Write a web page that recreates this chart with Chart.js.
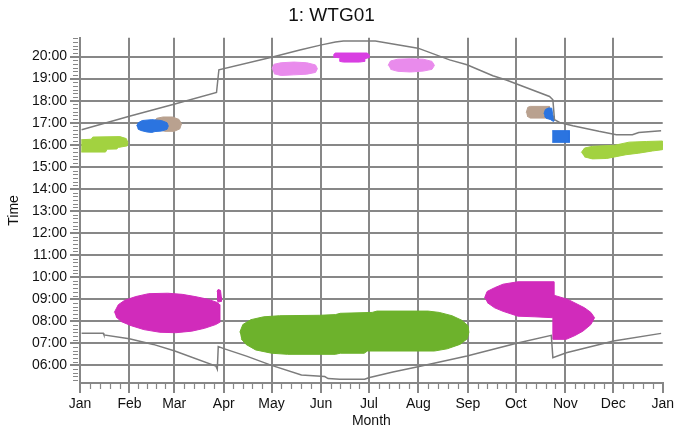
<!DOCTYPE html>
<html>
<head>
<meta charset="utf-8">
<script src="https://cdn.jsdelivr.net/npm/chart.js@4/dist/chart.umd.min.js"></script>
<style>
  body { margin: 0; background: #fff; }
</style>
</head>
<body>
<canvas id="flicker" width="677" height="435"></canvas>
<script>
// x = day of year, y = hour of day
const monthLabels = ['Jan', 'Feb', 'Mar', 'Apr', 'May', 'Jun', 'Jul', 'Aug', 'Sep', 'Oct', 'Nov', 'Dec', 'Jan'];
const monthStartDays = [0, 31, 59, 90, 120, 151, 181, 212, 243, 273, 304, 334, 365];
const hourTicks = [6, 7, 8, 9, 10, 11, 12, 13, 14, 15, 16, 17, 18, 19, 20];

const sunset = [[1, 16.68], [30.9, 17.29], [59.4, 17.85], [85.5, 18.37], [87, 19.40], [120, 19.97], [137.7, 20.3],
  [151.3, 20.53], [160, 20.66], [165, 20.7], [185, 20.7], [211.7, 20.38], [231.5, 19.85], [242.4, 19.63],
  [258.6, 19.13], [267, 18.94], [294.1, 18.19], [296.2, 18.04], [297.2, 17.14], [300.4, 17.01], [308.7, 16.86],
  [325, 16.61], [336, 16.46], [346, 16.46], [350, 16.56], [364, 16.64]];
const sunrise = [[1, 7.45], [14.6, 7.45], [15, 7.38], [30.9, 7.21], [45.9, 6.95], [59.4, 6.65], [85.1, 5.97],
  [86, 5.82], [86.6, 6.85], [90.1, 6.76], [104.3, 6.42], [120, 6.0], [138.7, 5.56], [153.3, 5.49], [155.4, 5.40],
  [162.7, 5.37], [178.3, 5.37], [180.8, 5.44], [196, 5.70], [211.7, 5.94], [242.4, 6.42], [273.5, 7.0],
  [295.2, 7.36], [296.2, 6.35], [304.6, 6.57], [334.2, 7.10], [364, 7.45]];

// shadow areas (outline of each patch)
const janGreen = [[0.8, 16.23], [7, 16.25], [8, 16.35], [25, 16.37], [29, 16.28], [30, 16.1], [29.5, 15.95],
  [24, 15.88], [23, 15.81], [17, 15.8], [16, 15.67], [0.8, 15.67]];
const febBlue = [[35.5, 16.85], [36.5, 17.0], [39, 17.1], [45, 17.14], [51, 17.1], [54.5, 17.0], [55.3, 16.85],
  [54.5, 16.7], [51, 16.62], [47, 16.6], [45, 16.56], [42, 16.58], [38, 16.65], [36.2, 16.72]];
const febTan = [[46, 17.0], [48, 17.2], [52, 17.26], [58, 17.26], [62, 17.15], [63.6, 16.95], [62.5, 16.72],
  [59, 16.61], [53, 16.61], [48, 16.7]];
const mayLilac = [[120.3, 19.45], [121.5, 19.65], [126, 19.72], [134, 19.75], [142, 19.72], [147.5, 19.62],
  [148.7, 19.45], [147.5, 19.28], [142, 19.2], [134, 19.17], [126, 19.14], [121.5, 19.22]];
const junMagenta = [[159, 19.95], [159, 20.1], [160, 20.16], [180, 20.16], [181, 20.08], [181, 19.95],
  [178.3, 19.9], [178.3, 19.78], [175, 19.75], [165, 19.75], [162.7, 19.78], [162.7, 19.92]];
const augLilac = [[193, 19.6], [194.5, 19.8], [199, 19.88], [207, 19.9], [215, 19.88], [220.5, 19.78],
  [222, 19.6], [220.5, 19.42], [215, 19.34], [207, 19.3], [199, 19.33], [194.5, 19.42]];
const octTan = [[279.5, 17.45], [280.5, 17.7], [282, 17.74], [294, 17.74], [294, 17.21], [282, 17.21], [280, 17.3]];
const octBlue = [[290.6, 17.4], [291.5, 17.6], [293.5, 17.67], [295.5, 17.66], [296, 17.4], [297.3, 17.1],
  [296.5, 17.06], [294.5, 17.15], [292, 17.2], [291, 17.28]];
const novBlue = [[295.8, 16.64], [306.6, 16.64], [306.6, 16.11], [295.8, 16.11]];
const decGreen = [[314, 15.65], [316, 15.85], [321, 15.93], [335, 15.98], [344, 16.12], [355, 16.15], [365, 16.17],
  [365, 15.78], [358.6, 15.72], [350, 15.62], [342, 15.55], [335, 15.45], [330, 15.38], [321, 15.36], [316, 15.45]];
const marMagenta = [[21.5, 8.4], [24, 8.75], [28, 8.95], [35, 9.12], [43, 9.25], [55, 9.27], [64, 9.22], [72, 9.12],
  [80, 9.0], [86, 8.85], [87.5, 8.75], [87.5, 7.95], [85, 7.85], [78, 7.68], [70, 7.55], [60, 7.48], [50, 7.5],
  [40, 7.62], [32, 7.8], [26, 7.98], [22.5, 8.2]];
const marSliver = [[85.8, 9.35], [86.5, 9.44], [88, 9.4], [88.5, 9.1], [88.5, 8.9], [86.5, 8.87], [85.8, 9.0]];
const summerGreen = [[100.1, 7.5], [102, 7.85], [107, 8.07], [115, 8.2], [125, 8.25], [150, 8.27], [160, 8.3],
  [163, 8.36], [183, 8.4], [186, 8.46], [218, 8.46], [225, 8.4], [233, 8.25], [239, 8.05], [243, 7.8], [243.6, 7.5],
  [242.5, 7.2], [238, 6.95], [230, 6.75], [222, 6.65], [180, 6.65], [178, 6.55], [163, 6.55], [160, 6.5], [130, 6.5],
  [120, 6.55], [110, 6.7], [104, 6.95], [101, 7.2]];
const octMagenta = [[253.4, 9.06], [255, 9.35], [259.7, 9.52], [265, 9.68], [274.3, 9.79], [296.8, 9.79],
  [296.8, 9.18], [305.6, 8.99], [316, 8.61], [320, 8.4], [322.3, 8.16], [320, 7.85], [315, 7.55], [310, 7.35],
  [304.6, 7.18], [296.2, 7.18], [296.2, 8.16], [285, 8.2], [274.3, 8.23], [265, 8.45], [259.7, 8.61], [255, 8.85]];

const GRID = '#878787';
const FONT = "'Liberation Sans', Arial, sans-serif";

function pts(arr) {
  return arr.map(p => ({ x: p[0], y: p[1] }));
}
function sunLine(arr) {
  return { data: pts(arr), showLine: true, fill: false, borderColor: '#7c7c7c', borderWidth: 1.5, pointRadius: 0 };
}
function patch(arr, color) {
  return { data: pts(arr), showLine: true, fill: 'shape', backgroundColor: color, borderColor: color,
    borderWidth: 1, pointRadius: 0 };
}

// minor tick marks on both axes
const minorTicks = {
  id: 'minorTicks',
  afterDraw(chart) {
    const ctx = chart.ctx;
    const xs = chart.scales.x, ys = chart.scales.y;
    ctx.save();
    ctx.strokeStyle = GRID;
    ctx.lineWidth = 1.2;
    ctx.beginPath();
    for (let m = 0; m < monthStartDays.length - 1; m++) {
      const len = (monthStartDays[m + 1] - monthStartDays[m]) / 5;
      for (let k = 1; k < 5; k++) {
        const px = Math.round(xs.getPixelForValue(monthStartDays[m] + k * len)) + 0.5;
        ctx.moveTo(px, ys.bottom);
        ctx.lineTo(px, ys.bottom + 6);
      }
    }
    for (let v = 5 + 1 / 3; v < ys.max; v += 1 / 6) {
      if (Math.abs(v - Math.round(v)) < 0.01) continue;
      const py = Math.round(ys.getPixelForValue(v)) + 0.5;
      ctx.moveTo(xs.left - 7, py);
      ctx.lineTo(xs.left - 2, py);
    }
    ctx.stroke();
    ctx.restore();
  }
};

new Chart(document.getElementById('flicker'), {
  type: 'scatter',
  data: {
    datasets: [
      sunLine(sunset),
      sunLine(sunrise),
      patch(febBlue, '#2b74e0'),
      patch(octBlue, '#2b74e0'),
      patch(novBlue, '#2b74e0'),
      patch(febTan, '#b9a18f'),
      patch(octTan, '#b9a18f'),
      patch(janGreen, '#a2d240'),
      patch(decGreen, '#a2d240'),
      patch(mayLilac, '#e98bec'),
      patch(augLilac, '#e98bec'),
      patch(junMagenta, '#d93fe2'),
      patch(marMagenta, '#d12bbb'),
      patch(marSliver, '#d12bbb'),
      patch(octMagenta, '#d12bbb'),
      patch(summerGreen, '#6db22c')
    ]
  },
  options: {
    responsive: false,
    animation: false,
    layout: { padding: { left: 0, right: 14, top: 0, bottom: 0 } },
    plugins: {
      legend: { display: false },
      tooltip: { enabled: false },
      title: {
        display: true,
        text: '1: WTG01',
        color: '#111',
        font: { family: FONT, size: 19, weight: 'normal' },
        padding: { top: 4, bottom: 11 }
      }
    },
    scales: {
      x: {
        type: 'linear',
        min: 0,
        max: 365,
        z: 1,
        afterBuildTicks: s => { s.ticks = monthStartDays.map(v => ({ value: v })); },
        afterFit: s => { s.height = 52; },
        ticks: {
          color: '#111',
          font: { family: FONT, size: 14 },
          padding: 3,
          maxRotation: 0,
          autoSkip: false,
          callback: (v, i) => monthLabels[i]
        },
        grid: {
          color: c => (c.index === monthStartDays.length - 1 ? 'rgba(0,0,0,0)' : GRID),
          tickColor: GRID,
          lineWidth: 2,
          tickWidth: 2,
          tickLength: 10
        },
        border: { color: GRID, width: 2 },
        title: {
          display: true,
          text: 'Month',
          color: '#111',
          font: { family: FONT, size: 14 },
          padding: { top: 0, bottom: 5 }
        }
      },
      y: {
        type: 'linear',
        min: 5.2,
        max: 20.85,
        z: 1,
        afterBuildTicks: s => { s.ticks = hourTicks.map(v => ({ value: v })); },
        afterFit: s => { s.width = 80; },
        ticks: {
          color: '#111',
          font: { family: FONT, size: 14 },
          padding: 3,
          callback: v => String(v).padStart(2, '0') + ':00'
        },
        grid: {
          color: GRID,
          tickColor: GRID,
          lineWidth: 2,
          tickWidth: 2,
          tickLength: 10
        },
        border: { color: GRID, width: 2 },
        title: {
          display: true,
          text: 'Time',
          color: '#111',
          font: { family: FONT, size: 14 },
          padding: { top: 6, bottom: 0 }
        }
      }
    }
  },
  plugins: [minorTicks]
});
</script>
</body>
</html>
